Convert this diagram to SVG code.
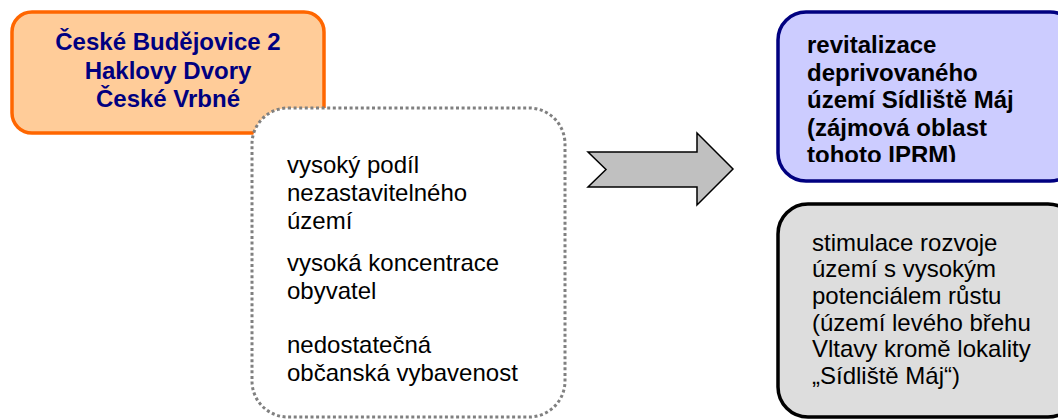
<svg xmlns="http://www.w3.org/2000/svg" width="1058" height="419" viewBox="0 0 1058 419">
<style>
.t{font-family:"Liberation Sans",Arial,sans-serif;font-size:24px;fill:#000}
.b{font-weight:bold}
.navy{fill:#000080}
</style>
<defs>
<clipPath id="blueClip"><rect x="778" y="12" width="300" height="150"/></clipPath>
</defs>
<rect width="1058" height="419" fill="#fff"/>
<g id="node-orange">
<rect x="12" y="12" width="312" height="121" rx="20" ry="20" fill="#FFCC99" stroke="#FF6600" stroke-width="3.5"/>
<text class="t b navy" text-anchor="middle"><tspan x="168" y="50">České Budějovice 2</tspan><tspan x="168" y="78.5">Haklovy Dvory</tspan><tspan x="168" y="106.5">České Vrbné</tspan></text>
</g>
<g id="node-problems">
<rect x="252" y="108" width="313" height="309" rx="36" ry="36" fill="#fff" stroke="#808080" stroke-width="3" stroke-dasharray="3 2.6"/>
<text class="t"><tspan x="287" y="173">vysoký podíl</tspan><tspan x="287" y="201">nezastavitelného</tspan><tspan x="287" y="228.5">území</tspan><tspan x="287" y="271">vysoká koncentrace</tspan><tspan x="287" y="298.5">obyvatel</tspan><tspan x="287" y="353">nedostatečná</tspan><tspan x="287" y="380.5">občanská vybavenost</tspan></text>
</g>
<g id="connectors">
<polygon points="588,152 697,152 697,133 733,169 697,205 697,187 588,187 606,169.5" fill="#C0C0C0" stroke="#000" stroke-width="1.5" stroke-linejoin="miter"/>
</g>
<g id="node-blue">
<rect x="778" y="12" width="300" height="169" rx="28" ry="28" fill="#CCCCFF" stroke="#000080" stroke-width="3.5"/>
<text class="t b" clip-path="url(#blueClip)"><tspan x="807" y="53">revitalizace</tspan><tspan x="807" y="80.5">deprivovaného</tspan><tspan x="807" y="108">území Sídliště Máj</tspan><tspan x="807" y="135.5">(zájmová oblast</tspan><tspan x="807" y="163">tohoto IPRM)</tspan></text>
</g>
<g id="node-gray">
<rect x="778" y="204" width="300" height="213" rx="30" ry="30" fill="#DDDDDD" stroke="#000" stroke-width="3.5"/>
<text class="t"><tspan x="812" y="250.5">stimulace rozvoje</tspan><tspan x="812" y="277.2">území s vysokým</tspan><tspan x="812" y="303.9">potenciálem růstu</tspan><tspan x="812" y="330.6">(území levého břehu</tspan><tspan x="812" y="357.3">Vltavy kromě lokality</tspan><tspan x="812" y="384">„Sídliště Máj“)</tspan></text>
</g>
</svg>
